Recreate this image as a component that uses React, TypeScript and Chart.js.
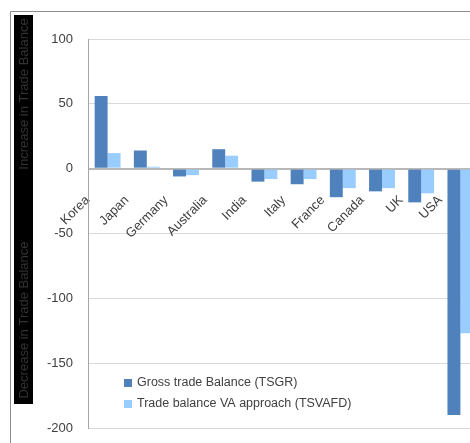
import React, { useEffect, useRef } from "react";
import { Chart, registerables } from "chart.js";

Chart.register(...registerables);

const categories = ["Korea", "Japan", "Germany", "Australia", "India", "Italy", "France", "Canada", "UK", "USA"];
const grossTradeBalance = [56, 14, -6, 15, -10, -12, -22, -17.5, -26, -190];
const vaTradeBalance = [12, 1.5, -5, 10, -8, -8, -15, -15, -19, -127];
const seriesNames = ["Gross trade Balance (TSGR)", "Trade balance VA approach (TSVAFD)"];
const seriesColors = ["#4F81BD", "#99CCFF"];
const yTitleUp = "Increase in Trade Balance";
const yTitleDown = "Decrease in Trade Balance";

const FONT = "'Liberation Sans', Arial, sans-serif";

const decorPlugin = {
  id: "decor",
  beforeDraw(chart: any) {
    const ctx = chart.ctx;
    ctx.save();
    ctx.fillStyle = "#ffffff";
    ctx.fillRect(0, 0, chart.width, chart.height);
    ctx.strokeStyle = "#8c8c8c";
    ctx.lineWidth = 1;
    ctx.beginPath();
    ctx.moveTo(10.5, chart.height);
    ctx.lineTo(10.5, 11.5);
    ctx.lineTo(chart.width, 11.5);
    ctx.stroke();
    // y-axis title box
    ctx.fillStyle = "#000000";
    ctx.fillRect(14, 15, 19, 389);
    ctx.fillStyle = "#333333";
    ctx.font = "13px " + FONT;
    ctx.textAlign = "center";
    ctx.textBaseline = "middle";
    ctx.translate(24, 0);
    ctx.rotate(-Math.PI / 2);
    ctx.fillText(yTitleUp, -94, 0);
    ctx.fillText(yTitleDown, -320, 0);
    ctx.restore();
  },
  afterDraw(chart: any) {
    const ctx = chart.ctx;
    ctx.save();
    ctx.font = "12.5px " + FONT;
    ctx.textBaseline = "middle";
    ctx.textAlign = "left";
    const rows = [383, 404];
    seriesNames.forEach((name, i) => {
      ctx.fillStyle = seriesColors[i];
      ctx.fillRect(124, rows[i] - 4, 8, 8);
      ctx.fillStyle = "#404040";
      ctx.fillText(name, 137, rows[i]);
    });
    ctx.restore();
  },
};

export default function App() {
  const ref = useRef<HTMLCanvasElement>(null);
  useEffect(() => {
    if (!ref.current) return;
    const chart = new Chart(ref.current, {
      type: "bar",
      data: {
        labels: categories,
        datasets: [
          { label: seriesNames[0], data: grossTradeBalance, backgroundColor: seriesColors[0], categoryPercentage: 0.66, barPercentage: 1 },
          { label: seriesNames[1], data: vaTradeBalance, backgroundColor: seriesColors[1], categoryPercentage: 0.66, barPercentage: 1 },
        ],
      },
      options: {
        animation: false,
        responsive: false,
        devicePixelRatio: 1,
        layout: { padding: { top: 39, bottom: 15, left: 0, right: 0 } },
        plugins: { legend: { display: false }, tooltip: { enabled: false } },
        scales: {
          x: {
            position: { y: 0 } as any,
            afterFit: (s: any) => { s.height = 0; s.paddingLeft = 0; s.paddingRight = 0; s.paddingTop = 0; s.paddingBottom = 0; },
            grid: { display: false, drawTicks: false },
            border: { display: false },
            ticks: {
              autoSkip: false,
              minRotation: 45,
              maxRotation: 45,
              labelOffset: -20,
              padding: 24,
              color: "#404040",
              font: { family: FONT, size: 13 },
            },
          },
          y: {
            min: -200,
            max: 100,
            afterFit: (s: any) => { s.width = 88; s.paddingTop = 0; s.paddingBottom = 0; },
            ticks: {
              stepSize: 50,
              padding: 15,
              color: "#404040",
              font: { family: FONT, size: 13 },
            },
            grid: {
              drawTicks: false,
              color: (c: any) => (c.tick && c.tick.value === 0 ? "#b8b8b8" : "#d9d9d9"),
              lineWidth: (c: any) => (c.tick && c.tick.value === 0 ? 2 : 1),
            },
            border: { display: true, color: "#a6a6a6", width: 1 },
          },
        },
      },
      plugins: [decorPlugin],
    });
    return () => chart.destroy();
  }, []);
  return (
    <div style={{ position: "fixed", left: 0, top: 0, width: 470, height: 443, overflow: "hidden", background: "#fff" }}>
      <canvas ref={ref} width={480} height={443} style={{ display: "block" }} />
    </div>
  );
}
